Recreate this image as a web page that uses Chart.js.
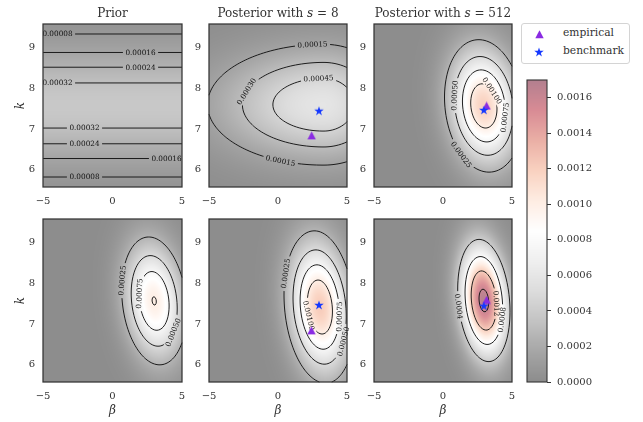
<!DOCTYPE html>
<html>
<head>
<meta charset="utf-8">
<script src="https://cdn.jsdelivr.net/npm/chart.js@4.4.1/dist/chart.umd.min.js"></script>
<style>
  html, body { margin: 0; padding: 0; background: #fff; }
  body { width: 643px; height: 422px; position: relative; overflow: hidden; font-family: 'DejaVu Serif', serif; color: #333; }
  canvas { position: absolute; }
  #legendBox { position: absolute; left: 521px; top: 23px; width: 109px; height: 41px; box-sizing: border-box;
               border: 1px solid #d4d4d4; border-radius: 3px; background: #fff; }
  .legendText { position: absolute; left: 563px; font-size: 10.7px; line-height: 12px; color: #333; white-space: nowrap; }
</style>
</head>
<body>
<div id="legendBox"></div>
<canvas id="legendTri" width="9" height="9" style="left:535px;top:30px"></canvas>
<canvas id="legendStar" width="10" height="10" style="left:534px;top:47px"></canvas>
<div class="legendText" style="top:27px">empirical</div>
<div class="legendText" style="top:45px">benchmark</div>

<script>
// axis ranges and ticks
const betaMin = -5, betaMax = 5;
const kMin = 5.58, kMax = 9.58;
const betaTicks = [-5, 0, 5];
const kTicks = [6, 7, 8, 9];
const colorTicks = [0, 0.0002, 0.0004, 0.0006, 0.0008, 0.0010, 0.0012, 0.0014, 0.0016];
const colorMax = 0.0017;

// density surfaces (prior, s=8, s=512 / bottom row)
const peak        = [0.000373, 0.000583, 0.00119, 0.001006, 0.00122, 0.00168];
const centerBeta  = [0, 3.3, 2.96, 3.0, 3.05, 2.96];
const centerK     = [7.58, 7.6, 7.57, 7.57, 7.42, 7.58];
const sdBetaLeft  = [Infinity, 5.1, 1.6, 1.38, 1.45, 1.1];
const sdBetaRight = [Infinity, 3.1, 1.6, 1.38, 1.4, 1.1];
const sdK         = [1.0, 0.9, 0.92, 0.94, 1.05, 0.885];
const tilt        = [0, 0, -0.23, -0.25, -0.22, -0.23];

const contourLevels = [
  [0.00008, 0.00016, 0.00024, 0.00032],
  [0.00015, 0.00030, 0.00045],
  [0.00025, 0.00050, 0.00075, 0.00100],
  [0.00025, 0.00050, 0.00075, 0.00100],
  [0.00025, 0.00050, 0.00075, 0.00100],
  [0.0004, 0.0008, 0.0012, 0.0016],
];
const labelDigits = [5, 5, 5, 5, 5, 4];

// where the inline contour labels sit: [level, beta, k]
const labelSpots = [
  [[0.00008, -3.94, 9.33], [0.00016, 1.99, 8.88], [0.00024, 1.99, 8.52], [0.00032, -3.94, 8.16],
   [0.00032, -1.98, 7.02], [0.00024, -1.98, 6.64], [0.00016, 3.9, 6.28], [0.00008, -1.98, 5.82]],
  [[0.00015, 2.48, 9.12], [0.00030, -2.45, 7.95], [0.00045, 2.95, 8.14], [0.00015, 0.12, 6.12]],
  [[0.00050, 0.68, 7.84], [0.00100, 3.6, 7.95], [0.00075, 4.4, 7.3], [0.00025, 1.55, 6.42]],
  [[0.00025, 0.62, 8.08], [0.00075, 1.89, 7.76], [0.00050, 4.26, 6.82]],
  [[0.00025, 0.34, 8.25], [0.00100, 2.0, 7.2], [0.00075, 4.18, 7.2], [0.00050, 4.45, 6.6]],
  [[0.0004, 1.24, 7.43], [0.0012, 3.83, 7.5], [0.0008, 4.1, 7.12]],
];

// markers
const empiricalBeta = [null, 2.44, 3.16, null, 2.42, 3.16];
const empiricalK    = [null, 6.84, 7.57, null, 6.84, 7.59];
const benchBeta     = [null, 2.97, 2.96, null, 2.97, 2.96];
const benchK        = [null, 7.45, 7.47, null, 7.47, 7.45];

const panelTitles = [
  [['Prior', false]],
  [['Posterior with ', false], ['s', true], [' = 8', false]],
  [['Posterior with ', false], ['s', true], [' = 512', false]],
  null, null, null,
];

const colX = [43, 209, 374];
const rowY = [24, 219];
const FONT = '"DejaVu Serif", serif';
const INK = '#333';

// RdGy_r, half transparent over white
const cmapStops = ['#1a1a1a', '#4d4d4d', '#878787', '#bababa', '#e0e0e0', '#ffffff',
                   '#fddbc7', '#f4a582', '#d6604d', '#b2182b', '#67001f'];
const stopRGB = cmapStops.map(h => [1, 3, 5].map(i => parseInt(h.slice(i, i + 2), 16)));

const shade = (v) => {
  const t = Math.max(0, Math.min(1, v / colorMax)) * (stopRGB.length - 1);
  const i = Math.min(stopRGB.length - 2, Math.floor(t));
  const f = t - i;
  const a = stopRGB[i], b = stopRGB[i + 1];
  return [0, 1, 2].map(j => 0.5 * (a[j] + (b[j] - a[j]) * f) + 127.5);
};

const density = (p, beta, k) => {
  const dk = k - centerK[p];
  const u = beta - centerBeta[p] - tilt[p] * dk;
  const sb = u < 0 ? sdBetaLeft[p] : sdBetaRight[p];
  const zb = isFinite(sb) ? u / sb : 0;
  return peak[p] * Math.exp(-0.5 * (dk * dk / (sdK[p] * sdK[p]) + zb * zb));
};

/** marching squares on a pixel grid, returns line segments in canvas pixels */
const march = (vals, nx, ny, level, ox, oy) => {
  const segs = [];
  for (let j = 0; j < ny - 1; j++) {
    for (let i = 0; i < nx - 1; i++) {
      const v00 = vals[j * nx + i], v10 = vals[j * nx + i + 1];
      const v01 = vals[(j + 1) * nx + i], v11 = vals[(j + 1) * nx + i + 1];
      const pts = [];
      const edge = (va, vb, xa, ya, xb, yb) => {
        if ((va >= level) !== (vb >= level)) {
          const t = (level - va) / (vb - va);
          pts.push([ox + xa + (xb - xa) * t, oy + ya + (yb - ya) * t]);
        }
      };
      edge(v00, v10, i, j, i + 1, j);
      edge(v10, v11, i + 1, j, i + 1, j + 1);
      edge(v11, v01, i + 1, j + 1, i, j + 1);
      edge(v01, v00, i, j + 1, i, j);
      if (pts.length >= 2) segs.push([pts[0], pts[1]]);
      if (pts.length === 4) segs.push([pts[2], pts[3]]);
    }
  }
  return segs;
};

const surfacePlugin = {
  id: 'surface',
  beforeDatasetsDraw(chart, args, opts) {
    const p = opts.panel;
    const { ctx, chartArea: a, scales: { x, y } } = chart;
    const L = Math.round(a.left), T = Math.round(a.top);
    const W = Math.round(a.right) - L, H = Math.round(a.bottom) - T;

    // heat map, one cell per pixel
    const img = ctx.createImageData(W, H);
    for (let j = 0; j < H; j++) {
      const k = y.getValueForPixel(T + j + 0.5);
      for (let i = 0; i < W; i++) {
        const c = shade(density(p, x.getValueForPixel(L + i + 0.5), k));
        const o = (j * W + i) * 4;
        img.data[o] = c[0]; img.data[o + 1] = c[1]; img.data[o + 2] = c[2]; img.data[o + 3] = 255;
      }
    }
    ctx.putImageData(img, L, T);

    // contour lines
    const nx = W + 1, ny = H + 1;
    const vals = new Float64Array(nx * ny);
    for (let j = 0; j < ny; j++) {
      const k = y.getValueForPixel(T + j);
      for (let i = 0; i < nx; i++) vals[j * nx + i] = density(p, x.getValueForPixel(L + i), k);
    }
    const layer = document.createElement('canvas');
    layer.width = chart.width; layer.height = chart.height;
    const g = layer.getContext('2d');
    g.strokeStyle = 'rgba(15,15,15,0.92)';
    g.lineWidth = 1;
    const segsByLevel = new Map();
    contourLevels[p].forEach((level) => {
      const segs = march(vals, nx, ny, level, L, T);
      segsByLevel.set(level, segs);
      g.beginPath();
      segs.forEach((s) => { g.moveTo(s[0][0], s[0][1]); g.lineTo(s[1][0], s[1][1]); });
      g.stroke();
    });

    // inline labels: cut the line, then write the level
    const labelFont = '7.3px ' + FONT;
    g.font = labelFont;
    const labels = [];
    const f = (px, py) => density(p, x.getValueForPixel(px), y.getValueForPixel(py));
    labelSpots[p].forEach(([level, b, k]) => {
      const segs = segsByLevel.get(level);
      if (!segs || !segs.length) return;
      const ax = x.getPixelForValue(b), ay = y.getPixelForValue(k);
      let best = null, bd = Infinity;
      segs.forEach((s) => {
        const mx = (s[0][0] + s[1][0]) / 2, my = (s[0][1] + s[1][1]) / 2;
        const d = (mx - ax) ** 2 + (my - ay) ** 2;
        if (d < bd) { bd = d; best = [mx, my]; }
      });
      const gx = f(best[0] + 1, best[1]) - f(best[0] - 1, best[1]);
      const gy = f(best[0], best[1] + 1) - f(best[0], best[1] - 1);
      let ang = Math.atan2(gx, -gy);
      if (ang > Math.PI / 2) ang -= Math.PI;
      if (ang <= -Math.PI / 2) ang += Math.PI;
      const text = level.toFixed(labelDigits[p]);
      const tw = g.measureText(text).width;
      g.save();
      g.translate(best[0], best[1]);
      g.rotate(ang);
      g.globalCompositeOperation = 'destination-out';
      g.fillRect(-tw / 2 - 2.5, -4, tw + 5, 8);
      g.restore();
      labels.push([text, best[0], best[1], ang]);
    });
    ctx.drawImage(layer, 0, 0);

    ctx.save();
    ctx.font = labelFont;
    ctx.fillStyle = '#111';
    ctx.textAlign = 'center';
    ctx.textBaseline = 'middle';
    labels.forEach(([text, px, py, ang]) => {
      ctx.save();
      ctx.translate(px, py);
      ctx.rotate(ang);
      ctx.fillText(text, 0, 0.5);
      ctx.restore();
    });
    ctx.restore();
  },
  afterDatasetsDraw(chart) {
    const { ctx, chartArea: a } = chart;
    ctx.save();
    ctx.strokeStyle = INK;
    ctx.lineWidth = 1.25;
    ctx.strokeRect(Math.round(a.left), Math.round(a.top), Math.round(a.right) - Math.round(a.left), Math.round(a.bottom) - Math.round(a.top));
    ctx.restore();
  },
  afterDraw(chart, args, opts) {
    const parts = panelTitles[opts.panel];
    if (!parts) return;
    const { ctx, chartArea: a } = chart;
    ctx.save();
    ctx.fillStyle = INK;
    ctx.textBaseline = 'middle';
    const fontOf = (it) => (it ? 'italic ' : '') + '12px ' + FONT;
    let total = 0;
    parts.forEach(([t, it]) => { ctx.font = fontOf(it); total += ctx.measureText(t).width; });
    let cx = (a.left + a.right) / 2 - total / 2;
    parts.forEach(([t, it]) => {
      ctx.font = fontOf(it);
      ctx.fillText(t, cx, 13.5);
      cx += ctx.measureText(t).width;
    });
    ctx.restore();
  },
};

const markerImage = (kind, color, size) => {
  const c = document.createElement('canvas');
  c.width = c.height = size;
  drawMarker(c.getContext('2d'), kind, color, size);
  return c;
};
const drawMarker = (g, kind, color, size) => {
  g.fillStyle = color;
  g.beginPath();
  if (kind === 'triangle') {
    g.moveTo(size / 2, 0.3);
    g.lineTo(size - 0.3, size - 0.8);
    g.lineTo(0.3, size - 0.8);
  } else {
    for (let i = 0; i < 10; i++) {
      const r = i % 2 ? size * 0.19 : size / 2;
      const t = -Math.PI / 2 + i * Math.PI / 5;
      g.lineTo(size / 2 + r * Math.cos(t), size / 2 + 0.4 + r * Math.sin(t));
    }
  }
  g.closePath();
  g.fill();
};

const TRI_COLOR = '#8a2be2';
const STAR_COLOR = '#1438ff';
const triImg = markerImage('triangle', TRI_COLOR, 9);
const starImg = markerImage('star', STAR_COLOR, 10);
drawMarker(document.getElementById('legendTri').getContext('2d'), 'triangle', TRI_COLOR, 9);
drawMarker(document.getElementById('legendStar').getContext('2d'), 'star', STAR_COLOR, 10);

const tickFont = { family: FONT, size: 10 };
const fmtBeta = (v) => (v < 0 ? '\u2212' + Math.abs(v) : String(v));

for (let p = 0; p < 6; p++) {
  const col = p % 3, row = Math.floor(p / 3);
  const canvas = document.createElement('canvas');
  canvas.width = 187; canvas.height = 227;
  canvas.style.left = (colX[col] - 43) + 'px';
  canvas.style.top = (rowY[row] - 24) + 'px';
  document.body.appendChild(canvas);

  const hasMarks = empiricalBeta[p] !== null;
  new Chart(canvas, {
    type: 'scatter',
    data: {
      datasets: [
        { label: 'benchmark', data: hasMarks ? [{ x: benchBeta[p], y: benchK[p] }] : [], pointStyle: starImg, pointRadius: 5 },
        { label: 'empirical', data: hasMarks ? [{ x: empiricalBeta[p], y: empiricalK[p] }] : [], pointStyle: triImg, pointRadius: 5 },
      ],
    },
    options: {
      responsive: false,
      animation: false,
      events: [],
      layout: { padding: { top: 24, left: 0, right: 5, bottom: 0 } },
      plugins: { legend: { display: false }, tooltip: { enabled: false }, surface: { panel: p } },
      scales: {
        x: {
          type: 'linear', min: betaMin, max: betaMax,
          afterBuildTicks: (s) => { s.ticks = betaTicks.map((v) => ({ value: v })); },
          afterFit: (s) => { s.height = 40; s.paddingLeft = 0; s.paddingRight = 0; },
          grid: { display: false, drawTicks: false },
          border: { display: false },
          ticks: { padding: 8, color: INK, font: tickFont, callback: fmtBeta, maxRotation: 0, autoSkip: false },
          title: { display: row === 1, text: '\u03b2', color: INK, font: { family: FONT, size: 12, style: 'italic' }, padding: { top: 0, bottom: 4 } },
        },
        y: {
          type: 'linear', min: kMin, max: kMax,
          afterBuildTicks: (s) => { s.ticks = kTicks.map((v) => ({ value: v })); },
          afterFit: (s) => { s.width = 43; s.paddingTop = 0; s.paddingBottom = 0; },
          grid: { display: false, drawTicks: false },
          border: { display: false },
          ticks: { padding: 8, color: INK, font: tickFont, autoSkip: false },
          title: { display: col === 0, text: 'k', color: INK, font: { family: FONT, size: 12, style: 'italic' }, padding: { top: 13.5, bottom: 0 } },
        },
      },
    },
    plugins: [surfacePlugin],
  });
}

// colour bar
const colorbarFill = {
  id: 'colorbarFill',
  beforeDatasetsDraw(chart) {
    const { ctx, chartArea: a, scales: { y } } = chart;
    const L = Math.round(a.left), R = Math.round(a.right);
    for (let py = Math.round(a.top); py < Math.round(a.bottom); py++) {
      const c = shade(y.getValueForPixel(py + 0.5));
      ctx.fillStyle = `rgb(${c[0] | 0},${c[1] | 0},${c[2] | 0})`;
      ctx.fillRect(L, py, R - L, 1);
    }
  },
  afterDatasetsDraw(chart) {
    const { ctx, chartArea: a } = chart;
    ctx.save();
    ctx.strokeStyle = INK;
    ctx.lineWidth = 1.1;
    ctx.strokeRect(Math.round(a.left), Math.round(a.top), Math.round(a.right) - Math.round(a.left), Math.round(a.bottom) - Math.round(a.top));
    ctx.restore();
  },
};

const cb = document.createElement('canvas');
cb.width = 123; cb.height = 322;
cb.style.left = '520px'; cb.style.top = '75px';
document.body.appendChild(cb);
new Chart(cb, {
  type: 'scatter',
  data: { datasets: [] },
  options: {
    responsive: false,
    animation: false,
    events: [],
    layout: { padding: { top: 5, left: 7, right: 0, bottom: 15 } },
    plugins: { legend: { display: false }, tooltip: { enabled: false } },
    scales: {
      x: { display: false, min: 0, max: 1 },
      y: {
        position: 'right', min: 0, max: colorMax,
        afterBuildTicks: (s) => { s.ticks = colorTicks.map((v) => ({ value: v })); },
        afterFit: (s) => { s.width = 96; s.paddingTop = 0; s.paddingBottom = 0; },
        grid: { display: true, drawOnChartArea: false, drawTicks: true, tickLength: 4, color: INK, lineWidth: 1 },
        border: { display: false },
        ticks: { padding: 6, color: INK, font: tickFont, autoSkip: false, callback: (v) => v.toFixed(4) },
      },
    },
  },
  plugins: [colorbarFill],
});
</script>
</body>
</html>
